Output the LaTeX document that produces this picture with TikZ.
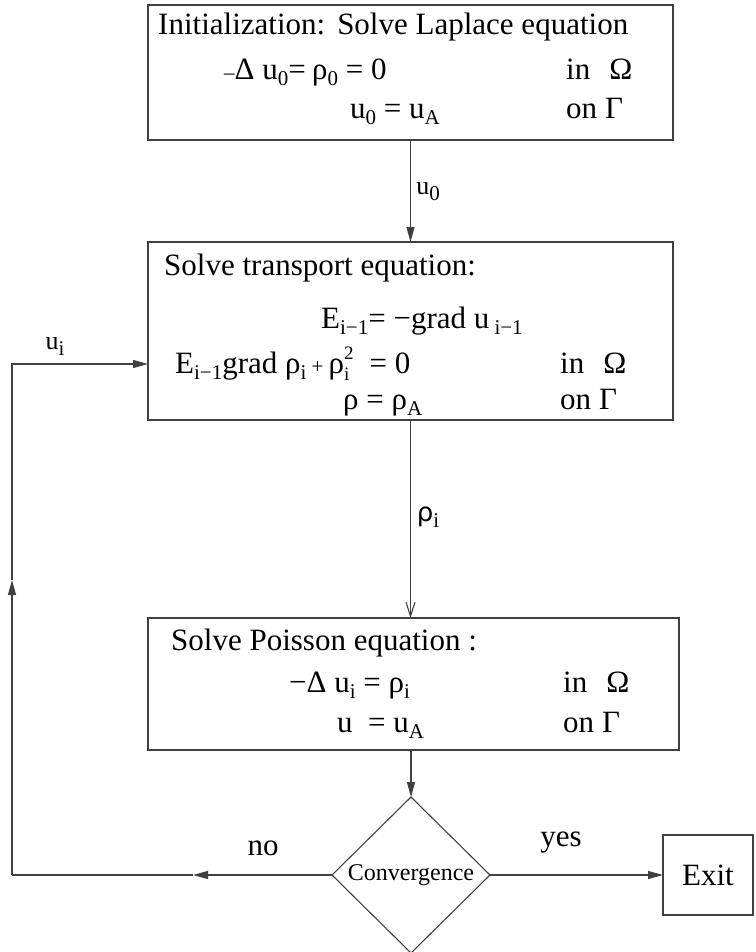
\documentclass[tikz,border=0pt]{standalone}
\usepackage{fontspec}
\setmainfont{Liberation Serif}
\newfontfamily\dvs{DejaVu Sans}
\usetikzlibrary{shapes.geometric,arrows.meta}
\newcommand{\dn}[1]{\raisebox{-6pt}{\fontsize{21}{21}\selectfont #1}}
\newcommand{\sm}[1]{{\fontsize{21}{21}\selectfont #1}}
\newcommand{\stk}[2]{\rlap{\raisebox{-7pt}{\fontsize{19}{19}\selectfont #1}}\raisebox{14pt}{\fontsize{19}{19}\selectfont #2}}
\begin{document}
\begin{tikzpicture}[x=1pt,y=-1pt,
  line/.style={line width=1.1pt, draw=black!75},
  box/.style={line, rectangle, inner sep=0pt, outer sep=0pt, anchor=north west},
  txt/.style={anchor=base west, inner sep=0pt, font=\fontsize{31}{31}\selectfont},
  lbl/.style={inner sep=0pt, font=\fontsize{26}{26}\selectfont},
  arr/.style={line, -{Triangle[length=15pt,width=8pt]}},
  oarr/.style={line, -{Straight Barb[length=14pt,width=9pt]}}]
\useasboundingbox (0,0) rectangle (755,952);

% boxes
\node[box, minimum width=525pt, minimum height=135pt] (b1) at (148,5) {};
\node[box, minimum width=525pt, minimum height=178pt] (b2) at (148,242) {};
\node[box, minimum width=531pt, minimum height=132pt] (b3) at (148,618) {};
\node[line, diamond, aspect=1, inner sep=0pt, outer sep=0pt, minimum width=158pt, minimum height=156pt,
      font=\fontsize{24}{24}\selectfont] (conv) at (411,875) {Convergence};
\node[line, rectangle, inner sep=0pt, outer sep=0pt, minimum width=90pt, minimum height=80pt,
      font=\fontsize{31}{31}\selectfont] (exit) at (708,875) {Exit};

% box 1 text
\node[txt] (t1a) at (158,35) {Initialization:\hspace{12pt}Solve Laplace equation};
\node[txt] (t1b) at (224,80) {\sm{–}Δ u\dn{0}=};
\node[txt] (t1c) at (312,80) {ρ\dn{0} = 0};
\node[txt] (t1d) at (566,80) {in\hspace{19pt}Ω};
\node[txt] (t1e) at (350,119) {u\dn{0} = u\dn{A}};
\node[txt] (t1f) at (566,119) {on\hspace{8pt}Γ};

% box 2 text
\node[txt] (t2a) at (164,275) {Solve transport equation:};
\node[txt] (t2b) at (321,328) {E\dn{i−1}= −grad u\,\dn{i−1}};
\node[txt] (t2c) at (175,373) {E\dn{i−1}grad ρ\dn{i}\,\sm{+}\,ρ\stk{i}{2}\hspace{16pt}= 0};
\node[txt] (t2d) at (560,373) {in\hspace{19pt}Ω};
\node[txt] (t2e) at (343,409) {ρ = ρ\dn{A}};
\node[txt] (t2f) at (560,409) {on\hspace{8pt}Γ};

% box 3 text
\node[txt] (t3a) at (171,650) {Solve Poisson equation :};
\node[txt] (t3b) at (289,692) {−Δ u\dn{i} =\ ρ\dn{i}};
\node[txt] (t3c) at (563,692) {in\hspace{19pt}Ω};
\node[txt] (t3d) at (337,732) {u\ \ = u\dn{A}};
\node[txt] (t3e) at (563,732) {on\hspace{8pt}Γ};

% labels
\node[lbl] (lu0) at (428,192) {u\dn{0}};
\node[lbl] (lui) at (55,347) {u\dn{i}};
\node[lbl] (lrho) at (428,517) {{\dvs ρ}\dn{i}};
\node[txt, anchor=center] (lno) at (263,848) {no};
\node[txt, anchor=center] (lyes) at (561,843) {yes};

% helper coordinates
\coordinate (nomid) at (193,875);
\coordinate (c1) at (12,875);
\coordinate (upmid) at (12,580);
\coordinate (c2) at (12,364);

% connectors
\draw[arr] (b1.south) -- (b2.north);
\draw[oarr] (b2.south) -- (b2.south |- b3.north);
\draw[arr] (b3.south -| conv.north) -- (conv.north);
\draw[arr] (conv.east) -- (exit.west);
\draw[arr] (conv.west) -- (nomid);
\draw[line] (nomid) -- (c1);
\draw[arr] (c1) -- (upmid);
\draw[arr] (upmid) -- (c2) -- (c2 -| b2.west);
\end{tikzpicture}
\end{document}
